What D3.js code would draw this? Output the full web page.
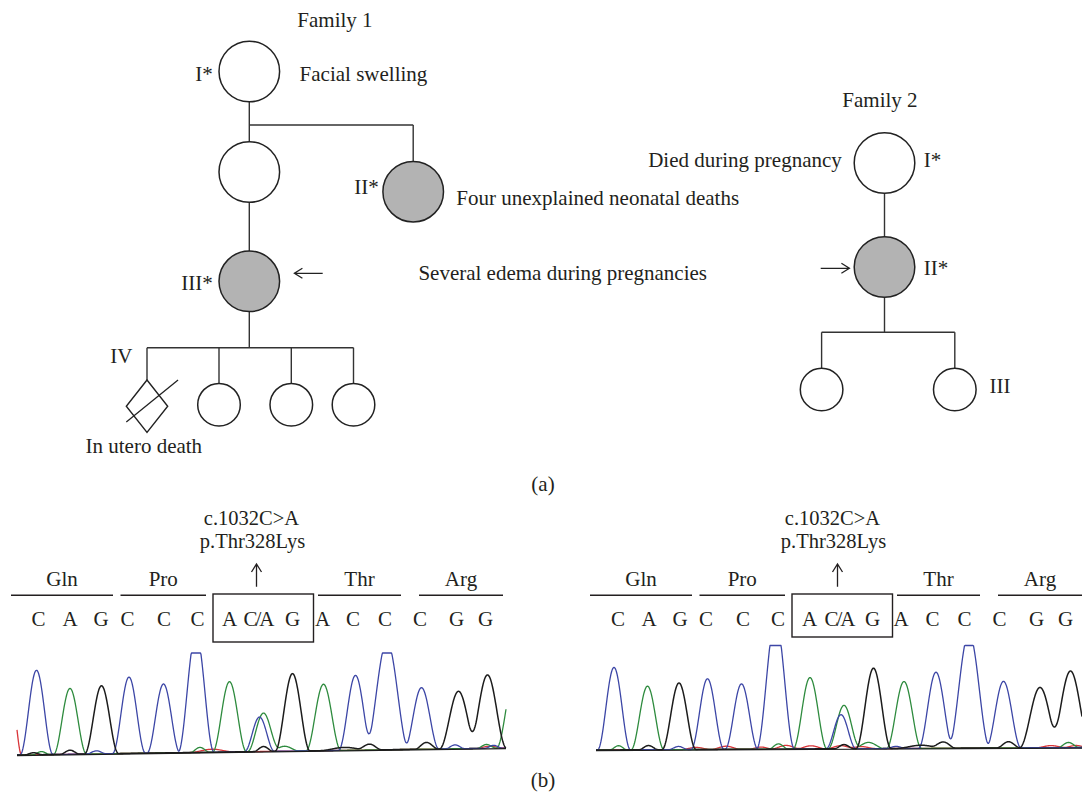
<!DOCTYPE html>
<html><head><meta charset="utf-8">
<script src="https://cdn.jsdelivr.net/npm/d3@7"></script>
<style>
body{margin:0;background:#fff}
svg{display:block}
text{font-family:'Liberation Serif','Times New Roman',serif;fill:#231f20}
</style>
</head><body>
<svg id="c" width="1082" height="794"></svg>
<script>
// ---------------- DATA ----------------
const familyTitles = ["Family 1", "Family 2"];
const family1 = [
  {id:"f1a", label:"I*",   shape:"circle",  affected:false, note:"Facial swelling"},
  {id:"f1b", label:"",     shape:"circle",  affected:false, note:""},
  {id:"f1c", label:"II*",  shape:"circle",  affected:true,  note:"Four unexplained neonatal deaths"},
  {id:"f1d", label:"III*", shape:"circle",  affected:true,  proband:"left", note:"Several edema during pregnancies"},
  {id:"f1e", label:"IV",   shape:"diamond", affected:false, deceased:true, note:"In utero death"},
  {id:"f1f", label:"",     shape:"circle",  affected:false, note:""},
  {id:"f1g", label:"",     shape:"circle",  affected:false, note:""},
  {id:"f1h", label:"",     shape:"circle",  affected:false, note:""}
];
const family1Sibships = [
  {parent:"f1a", children:["f1b","f1c"]},
  {parent:"f1b", children:["f1d"]},
  {parent:"f1d", children:["f1e","f1f","f1g","f1h"]}
];
const family2 = [
  {id:"f2a", label:"I*",  shape:"circle", affected:false, note:"Died during pregnancy"},
  {id:"f2b", label:"II*", shape:"circle", affected:true,  proband:"right", note:""},
  {id:"f2c", label:"",    shape:"circle", affected:false, note:""},
  {id:"f2d", label:"III", shape:"circle", affected:false, note:""}
];
const family2Sibships = [
  {parent:"f2a", children:["f2b"]},
  {parent:"f2b", children:["f2c","f2d"]}
];
const panelLabels = ["(a)", "(b)"];

// sequence annotation
const bases = ["C","A","G","C","C","C","A","C/A","G","A","C","C","C","G","G"];
const codons = ["Gln","Pro","","Thr","Arg"];            // "" = mutated codon (boxed)
const codonSpans = [[-12,192],[207,378],[392,593],[602,768],[804,972]]; // scan units
const mutationText = ["c.1032C>A", "p.Thr328Lys"];
const mutatedBase = 7;

// base call positions (scan units)
const leftCalls  = [43,106,168,221,294,361,425,479,551,611,672,736,806,879,937];
const rightCalls = [44,106,168,220,294,364,427,483,553,610,673,737,807,881,939];

// chromatogram peaks: [scan, height (% of full scale), half-width (scans)]
const leftC = [[39,83,33],[224,76,33],[293,69,33],[358,120,36],[485,35,30],[677,77,34],[740,112,44],[809,64,35],
               [159,3,20],[876,4,20],[953,3,18]];
const leftA = [[106,65,33],[425,71,34],[493,39,32],[613,68,35],[995,75,36],
               [49,3,18],[366,5,20],[535,5,30],[939,4,20]];
const leftG = [[169,67.5,34],[551,79,35],[883,60,38],[941,77,38],
               [33,2,18],[106,4,20],[493,5,20],[655,3,50],[705,6,25],[819,7,24]];
const leftT = [[-8,45,17],[390,3,45],[945,2,30]];

const rightC = [[36,79,33],[223,68,33],[291,63,33],[359,125,38],[490,33,30],[680,74,35],[746,112,42],[815,65,35],
                [165,3,20],[600,2,20]];
const rightA = [[103,61,33],[428,69,34],[496,42,32],[616,65,35],
                [45,4,18],[365,5,20],[545,6,32],[945,5,22]];
const rightG = [[166,64,34],[555,78,35],[888,59,41],[949,75,41],
                [105,4,20],[496,4,20],[650,3,50],[695,6,25],[825,6,24]];
const rightT = [[200,2,30],[260,3,30],[330,2,25],[380,3.5,30],[430,3,30],[490,3,30],[530,2,30],[910,2,30],[960,2,25]];

// ---------------- LAYOUT ----------------
const svg = d3.select("#c");
const FS = 21;
const ink = "#231f20";
const grey = "#b3b3b3";

const layout = {
  f1a:{x:249.3,y:71.5,r:30.3}, f1b:{x:249.3,y:172,r:30.3}, f1c:{x:413.2,y:191.7,r:30.3},
  f1d:{x:249.3,y:281.3,r:30.3},
  f1e:{x:147,y:406.2,r:20.7,rh:26.2}, f1f:{x:219,y:404.7,r:21.3}, f1g:{x:291.3,y:404.7,r:21.3}, f1h:{x:353.5,y:404.7,r:21.3},
  f2a:{x:884.5,y:163,r:30.3}, f2b:{x:884.5,y:267,r:30.3}, f2c:{x:821.6,y:389.5,r:21.3}, f2d:{x:954.8,y:389.5,r:21.3}
};
const sibY = {f1a:125, f1d:347.7, f2b:332.3};
const labelPos = {
  f1a:{x:212.8,y:80.7,a:"end"}, f1c:{x:378.8,y:194,a:"end"}, f1d:{x:212.8,y:290,a:"end"},
  f1e:{x:110.2,y:363.3,a:"start"},
  f2a:{x:923.7,y:166.7,a:"start"}, f2b:{x:923.7,y:275,a:"start"}, f2d:{x:989.4,y:393.3,a:"start"}
};
const notePos = {
  f1a:{x:299.6,y:80.7,a:"start"}, f1c:{x:456.3,y:205,a:"start"}, f1d:{x:418.4,y:280,a:"start"},
  f1e:{x:143.8,y:453.3,a:"middle"}, f2a:{x:841.8,y:166.7,a:"end"}
};
const probandArrow = {f1d:{x1:294.4,x2:322.7,y:273.3}, f2b:{x1:820.7,x2:849.4,y:268.3}};

function topOf(id){ const p = layout[id]; return p.y - (p.rh || p.r); }
function bottomOf(id){ const p = layout[id]; return p.y + (p.rh || p.r); }

function drawFamily(members, sibships, title, tx, ty){
  const g = svg.append("g");
  g.append("text").attr("x",tx).attr("y",ty).attr("text-anchor","middle").attr("font-size",FS).text(title);
  sibships.forEach(sb => {
    const p = layout[sb.parent];
    if (sb.children.length === 1) {
      const c = layout[sb.children[0]];
      g.append("line").attr("x1",p.x).attr("x2",c.x).attr("y1",bottomOf(sb.parent)).attr("y2",topOf(sb.children[0]))
        .attr("stroke","#333").attr("stroke-width",1.4);
      return;
    }
    const sy = sibY[sb.parent];
    const xs = sb.children.map(id => layout[id].x).concat([p.x]);
    g.append("line").attr("x1",p.x).attr("x2",p.x).attr("y1",bottomOf(sb.parent)).attr("y2",sy)
      .attr("stroke","#333").attr("stroke-width",1.4);
    g.append("line").attr("x1",d3.min(xs)).attr("x2",d3.max(xs)).attr("y1",sy).attr("y2",sy)
      .attr("stroke","#333").attr("stroke-width",1.4);
    sb.children.forEach(id => {
      g.append("line").attr("x1",layout[id].x).attr("x2",layout[id].x).attr("y1",sy).attr("y2",topOf(id))
        .attr("stroke","#333").attr("stroke-width",1.4);
    });
  });
  members.forEach(m => {
    const p = layout[m.id];
    if (m.shape === "circle") {
      g.append("circle").attr("cx",p.x).attr("cy",p.y).attr("r",p.r)
        .attr("fill", m.affected ? grey : "#fff").attr("stroke","#222").attr("stroke-width",1.5);
    } else {
      const pts = [[p.x,p.y-p.rh],[p.x+p.r,p.y],[p.x,p.y+p.rh],[p.x-p.r,p.y]];
      g.append("path").attr("d", d3.line()(pts)+"Z")
        .attr("fill", m.affected ? grey : "#fff").attr("stroke","#222").attr("stroke-width",1.4);
      if (m.deceased) {
        g.append("line").attr("x1",p.x-p.r).attr("y1",p.y+p.rh*0.6).attr("x2",p.x+p.r*1.5).attr("y2",p.y-p.rh)
          .attr("stroke","#222").attr("stroke-width",1.3);
      }
    }
    if (m.label && labelPos[m.id]) {
      const lp = labelPos[m.id];
      g.append("text").attr("x",lp.x).attr("y",lp.y).attr("text-anchor",lp.a).attr("font-size",FS).text(m.label);
    }
    if (m.note && notePos[m.id]) {
      const np = notePos[m.id];
      g.append("text").attr("x",np.x).attr("y",np.y).attr("text-anchor",np.a).attr("font-size",FS).text(m.note);
    }
    if (m.proband) {
      const a = probandArrow[m.id];
      const tip = m.proband === "left" ? a.x1 : a.x2;
      const dir = m.proband === "left" ? 1 : -1;
      g.append("path")
        .attr("d", `M${a.x1},${a.y}L${a.x2},${a.y}M${tip+dir*8},${a.y-5}L${tip},${a.y}L${tip+dir*8},${a.y+5}`)
        .attr("fill","none").attr("stroke","#222").attr("stroke-width",1.3);
    }
  });
}

drawFamily(family1, family1Sibships, familyTitles[0], 335, 26.7);
drawFamily(family2, family2Sibships, familyTitles[1], 880, 106.7);

svg.append("text").attr("x",543).attr("y",491).attr("text-anchor","middle").attr("font-size",FS).text(panelLabels[0]);
svg.append("text").attr("x",543).attr("y",787).attr("text-anchor","middle").attr("font-size",FS).text(panelLabels[1]);

// ---------------- CHROMATOGRAMS ----------------
const panels = [
  {calls:leftCalls,  ch:{T:leftT, A:leftA, C:leftC, G:leftG},   x0:17,  scanMax:978, topY:653,   base0:755, base1:748,   boxBottom:642},
  {calls:rightCalls, ch:{T:rightT, A:rightA, C:rightC, G:rightG}, x0:596, scanMax:972, topY:645.5, base0:750, base1:747.5, boxBottom:637}
];
const colors = {T:"#d9363a", A:"#2e8b3e", C:"#3c46a6", G:"#1c1c1c"};

function kernel(d, w){ return Math.abs(d) >= w ? 0 : 0.5 + 0.5*Math.cos(Math.PI*d/w); }
function channelValue(peaks, s){ let v = 0; for (const [p,h,w] of peaks) v += h*kernel(s-p, w); return v; }

const Y = {mut1:525, mut2:547.5, arrowTop:564, arrowBot:586.7, aa:586, codonLine:595.3, boxTop:594, base:625.7};

panels.forEach(P => {
  const g = svg.append("g");
  const xs = d3.scaleLinear().domain([0, P.scanMax]).range([P.x0, P.x0 + P.scanMax/2]);
  const vs = d3.scaleLinear().domain([0, 100]).range([0, 1]).clamp(true);
  const y0 = d3.scaleLinear().domain([0, P.scanMax]).range([P.base0, P.base1]);
  const yOf = (s, v) => { const b = y0(s); return b - vs(v)*(b - P.topY); };
  const samples = d3.range(0, P.scanMax + 0.01, 1);

  codons.forEach((aa, i) => {
    const [a, b] = codonSpans[i];
    if (aa === "") {
      g.append("rect").attr("x",xs(a)).attr("y",Y.boxTop).attr("width",xs(b)-xs(a)).attr("height",P.boxBottom-Y.boxTop)
        .attr("fill","none").attr("stroke",ink).attr("stroke-width",1.4);
    } else {
      g.append("line").attr("x1",xs(a)).attr("x2",xs(b)).attr("y1",Y.codonLine).attr("y2",Y.codonLine)
        .attr("stroke",ink).attr("stroke-width",1.4);
      g.append("text").attr("x",(xs(a)+xs(b))/2).attr("y",Y.aa).attr("text-anchor","middle").attr("font-size",FS).text(aa);
    }
  });
  bases.forEach((b, i) => {
    const t = g.append("text").attr("y",Y.base).attr("text-anchor","middle").attr("font-size",FS).text(b);
    if (b.length > 1) {
      t.attr("x", xs(P.calls[i]) + 1.5).attr("letter-spacing", -2);
    } else {
      t.attr("x", xs(P.calls[i]));
    }
  });
  const mx = xs(P.calls[mutatedBase]);
  g.append("text").attr("x",mx-5).attr("y",Y.mut1).attr("text-anchor","middle").attr("font-size",20.5).text(mutationText[0]);
  g.append("text").attr("x",mx-4).attr("y",Y.mut2).attr("text-anchor","middle").attr("font-size",20.5).text(mutationText[1]);
  g.append("path").attr("d",`M${mx},${Y.arrowBot}L${mx},${Y.arrowTop}M${mx-5},${Y.arrowTop+8}L${mx},${Y.arrowTop}L${mx+5},${Y.arrowTop+8}`)
    .attr("fill","none").attr("stroke",ink).attr("stroke-width",1.3);

  ["T","A","C","G"].forEach(k => {
    const pts = samples.map(s => [xs(s), yOf(s, channelValue(P.ch[k], s))]);
    g.append("path").attr("d", d3.line()(pts)).attr("fill","none")
      .attr("stroke", colors[k]).attr("stroke-width", k === "G" ? 1.5 : 1.3).attr("stroke-linejoin","round");
  });
  g.append("line").attr("x1",xs(0)).attr("x2",xs(P.scanMax)).attr("y1",y0(0)+0.6).attr("y2",y0(P.scanMax)+0.6)
    .attr("stroke","#1c1c1c").attr("stroke-width",1.2);
});
</script>
</body></html>
